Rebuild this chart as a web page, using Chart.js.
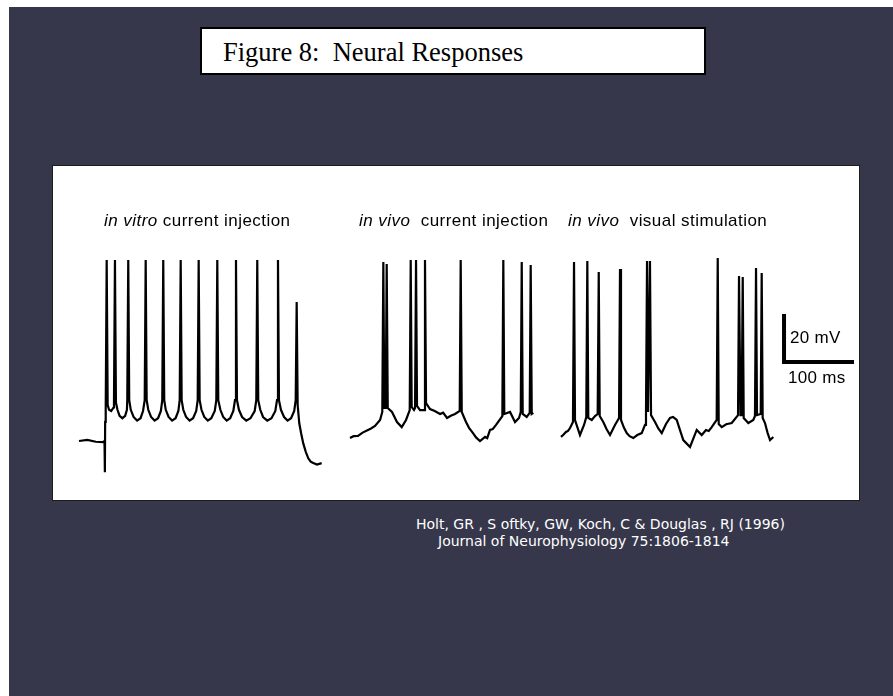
<!DOCTYPE html>
<html>
<head>
<meta charset="utf-8">
<title>Figure 8: Neural Responses</title>
<script src="https://cdn.jsdelivr.net/npm/chart.js@4.4.0/dist/chart.umd.min.js"></script>
<style>
    html, body {
        margin: 0;
        padding: 0;
        width: 893px;
        height: 696px;
        background: #ffffff;
        overflow: hidden;
    }
    .slide {
        position: absolute;
        left: 9px;
        top: 7px;
        right: 0;
        bottom: 0;
        background: #36374b;
    }
    .title-box {
        position: absolute;
        left: 200px;
        top: 27px;
        width: 502px;
        height: 44px;
        background: #ffffff;
        border: 2px solid #000000;
    }
    .title-box span {
        position: absolute;
        left: 21px;
        top: 10px;
        font-family: "Liberation Serif", "Times New Roman", serif;
        font-size: 26.5px;
        line-height: 26px;
        white-space: pre;
        color: #000000;
    }
    .panel {
        position: absolute;
        left: 52px;
        top: 165px;
        width: 806px;
        height: 334px;
        background: #ffffff;
        border: 1px solid #1c1c1c;
    }
    #traceChart {
        position: absolute;
        left: 53px;
        top: 166px;
    }
    .label {
        position: absolute;
        font-family: "Liberation Sans", Arial, sans-serif;
        font-size: 17px;
        line-height: 16px;
        letter-spacing: 0.45px;
        white-space: pre;
        color: #000000;
    }
    .label i { font-style: italic; }
    .cite {
        position: absolute;
        font-family: "DejaVu Sans", sans-serif;
        font-size: 14px;
        line-height: 14px;
        white-space: pre;
        color: #ffffff;
    }
</style>
</head>
<body>
<div class="slide"></div>
<div class="title-box"><span>Figure 8:  Neural Responses</span></div>
<div class="panel"></div>
<canvas id="traceChart" width="806" height="334"></canvas>

<div class="label" style="left:104px; top:213px;"><i>in vitro</i> current injection</div>
<div class="label" style="left:359px; top:213px;"><i>in vivo</i>  current injection</div>
<div class="label" style="left:568px; top:213px;"><i>in vivo</i>  visual stimulation</div>
<div class="label" style="left:790px; top:330px; letter-spacing:0.3px;">20 mV</div>
<div class="label" style="left:788px; top:370px; letter-spacing:0.3px;">100 ms</div>

<div class="cite" style="left:416px; top:517px;">Holt, GR , S oftky, GW, Koch, C &amp; Douglas , RJ (1996)</div>
<div class="cite" style="left:438px; top:534px;">Journal of Neurophysiology 75:1806-1814</div>

<script>
// In vitro current injection (ms from trace start, mV)
const vitroTime = [0, 12, 24, 34, 36.5, 37, 37.4, 38.2, 39.6, 41, 43, 46, 49.5, 50, 51.4, 52.8, 55, 58, 62, 66, 68.5, 69, 70.4, 71.8,
    74, 78, 83, 88, 91.5, 93.9, 95.3, 96.7, 99, 103, 108, 113, 117, 119, 120.4, 121.8, 124, 128, 133, 138, 142, 143.9, 145.3, 146.7,
    149, 153, 158, 163, 167.5, 169.6, 171, 172.4, 175, 179, 184, 189, 194, 196.2, 197.6, 199, 202, 206, 211, 216, 220.5, 222.9, 224.3, 225.7,
    228.5, 233, 239, 245, 251, 253.3, 254.7, 256.1, 259, 263, 269, 275, 280.5, 282.9, 284.3, 285.7, 288.5, 293, 298, 303, 307.5, 309.6, 311, 312.4,
    314.7, 317.5, 320.4, 324, 327.6, 331, 334.7, 340, 346.7];
const vitroVolt = [-70, -69.5, -70.3, -70.5, -70, -83, -62, -57, 5.4, -55, -57, -57.5, -56, -54, 5.4, -54, -57, -59.5, -60.5, -59.5, -57, -53, 5.4, -53,
    -57, -60, -61.5, -60.5, -57.5, -53, 5.4, -53, -57, -60, -61.5, -60.5, -57.5, -53, 5.4, -53, -57, -60, -61.5, -60.5, -57.5, -53, 5.4, -53,
    -57, -60, -61.5, -60.5, -57.5, -53, 5.4, -53, -57, -60, -61.5, -60.5, -57.5, -53, 5.4, -53, -57, -60, -61.5, -60.5, -57.5, -53, 5.4, -53,
    -57, -60, -61.5, -60.5, -57.5, -53, 5.4, -53, -57, -60, -61.5, -60.5, -57.5, -53, 5.4, -53, -57, -60, -61.5, -60.5, -57.5, -53, -12.1, -55,
    -62.6, -67, -71, -74.5, -77.2, -78.6, -79.2, -79.8, -79.2];

// In vivo current injection
const vivoCurrentTime = [0, 5, 11.4, 18, 25.7, 30, 35.7, 42.9, 46.1, 47.6, 49, 51, 52.4, 53.9, 60, 67.1, 73.9, 80, 85.3, 86.7, 88.1, 91.4, 92.9,
    94.3, 95.7, 100, 105.7, 107.1, 108.6, 114.3, 121, 128.6, 133, 138.6, 144, 150, 156.7, 158.1, 159.6, 165.7, 170, 175.7, 180, 185.7, 192.9, 196, 200, 204, 208.6,
    217.6, 219, 220.4, 228.6, 235.7, 241.4, 243.9, 245.3, 246.7, 252.4, 256.7, 258.1, 259.6, 261.9];
const vivoCurrentVolt = [-68.75, -68, -67.9, -66.5, -65.4, -64.8, -63.75, -61.25, -57.9, 4.6, -56.25, -56.25, 3.75, -56.25, -57.9, -62.1, -64.2, -61.25,
    -57.1, 5.4, -55.8, -57.1, -56.25, 5.4, -55.4, -57.1, -57.1, 5.4, -54.2, -56.7, -57.5, -58.75, -58.2, -60.4, -59.5, -58.75, -57.5, 5.4, -57.9, -62.1,
    -64.5, -66.7, -68.5, -70, -68.3, -68.8, -65.4, -65, -63.3, -59.6, 5.4, -58.75, -57.9, -62.1, -60.4, -57.9, 4.6, -58.75, -60, -58.3, 3.3, -58.75, -58.3];

// In vivo visual stimulation
const vivoVisualTime = [0, 3, 7.1, 10, 12.9, 17.1, 18.6, 20, 27.1, 32.9, 36.1, 37.6, 39, 43.9, 48.6, 52.4, 53.9, 55.3, 60.4, 65, 70, 77.1, 82.9,
    84.3, 85.7, 90, 93.9, 98, 103.3, 109, 115.3, 120, 121.4, 122.9, 124.3, 125.7, 127.1, 128.6, 134.3, 139, 143.9, 150, 155.7, 160, 165.3, 170, 174.7, 184.3,
    189, 193.9, 201, 207.1, 211, 215.3, 222.4, 223.9, 225.3, 229.6, 236, 243.9, 252.9, 254.3, 256.4, 258.1, 259.6, 261, 267.6, 274.7, 277.1, 278.6,
    280, 285.3, 286.7, 288.1, 291.4, 295, 298.6, 303.3];
const vivoVisualVolt = [-68.3, -67.5, -66.25, -65.8, -64.6, -62.1, 4.6, -61.25, -67.5, -63.3, -60, 5, -60.4, -61.25, -59.6, -58.75, 0.4, -59.6,
    -62.1, -65, -67.5, -63.3, -60.4, 1.7, -61.25, -64.5, -66.7, -68, -68.75, -67.5, -66.7, -63.3, -59.2, 5, -57.9, -57.9, 5, -59.2, -62.1, -64.8, -66.7, -62.9,
    -60.4, -60, -61.25, -65.5, -69.6, -72.5, -69, -65.4, -67.5, -65.4, -65.8, -64.2, -61.25, 6.25, -62.9, -64.2, -63, -62.5, -59.2, -1.25, -59.2, -59.2, -1.7,
    -60.4, -62.5, -61.25, -59.6, 2.1, -59.2, -58.75, 0, -60.4, -62.5, -66.5, -69.6, -68.3];

// Scale bar: 20 mV by 100 ms
const scaleBarTime = [0, 0, 100];
const scaleBarVolt = [-17.1, -37.1, -37.1];

// Where each trace sits along the shared time axis (ms)
const traceOffsets = { vitro: 37.1, vivoCurrent: 424.3, vivoVisual: 725.7, scaleBar: 1044.3 };

document.addEventListener('DOMContentLoaded', function() {
    drawTraces();
});

function toPoints(times, volts, offset) {
    return times.map((t, i) => ({ x: t + offset, y: volts[i] }));
}

function traceDataset(points, width) {
    return {
        data: points,
        borderColor: '#000000',
        borderWidth: width,
        pointRadius: 0,
        tension: 0,
        fill: false
    };
}

function drawTraces() {
    const ctx = document.getElementById('traceChart');
    new Chart(ctx, {
        type: 'line',
        data: {
            datasets: [
                traceDataset(toPoints(vitroTime, vitroVolt, traceOffsets.vitro), 2.2),
                traceDataset(toPoints(vivoCurrentTime, vivoCurrentVolt, traceOffsets.vivoCurrent), 2.2),
                traceDataset(toPoints(vivoVisualTime, vivoVisualVolt, traceOffsets.vivoVisual), 2.2),
                traceDataset(toPoints(scaleBarTime, scaleBarVolt, traceOffsets.scaleBar), 4)
            ]
        },
        options: {
            responsive: false,
            animation: false,
            devicePixelRatio: 1,
            layout: { padding: 0 },
            plugins: {
                legend: { display: false },
                tooltip: { enabled: false }
            },
            scales: {
                x: { type: 'linear', display: false, min: 0, max: 1151.4 },
                y: { display: false, min: -94.58, max: 44.58 }
            }
        }
    });
}
</script>
</body>
</html>
